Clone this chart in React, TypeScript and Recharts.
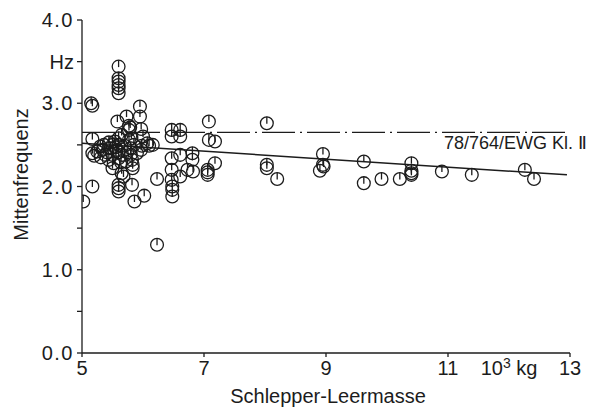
import React from 'react';
import { ScatterChart, Scatter, XAxis, YAxis, ReferenceLine, Label } from 'recharts';

const xTicks = [5, 7, 9, 11, 12, 13];
const xTickLabels: Record<number, string> = { 5: '5', 7: '7', 9: '9', 11: '11', 12: '10|3| kg', 13: '13' };
const yTicks = [0, 0.5, 1, 1.5, 2, 2.5, 3, 3.5, 4];
const yTickLabels: Record<number, string> = { 0: '0.0', 1: '1.0', 2: '2.0', 3: '3.0', 3.5: 'Hz', 4: '4.0' };

const limitValue = 2.65;
const limitLabel = '78/764/EWG Kl. Ⅱ';
const regressionLine = [
  { x: 5, y: 2.52 },
  { x: 12.95, y: 2.14 },
];

const massX = [
  5.02, 5.17, 5.15, 5.17, 5.17, 5.17, 5.2,
  5.6, 5.6, 5.6, 5.6, 5.6, 5.6, 5.58,
  5.6, 5.6, 5.6,
  5.73, 5.79, 5.95, 5.95, 5.97, 5.81, 6.07, 6.1, 5.98, 6.16,
  5.5, 5.65, 5.68, 5.82, 5.86, 6.02, 6.23, 6.23,
  5.3, 5.36, 5.44, 5.41, 5.47, 5.5, 5.54, 5.57, 5.6, 5.6, 5.6, 5.6, 5.65, 5.7, 5.74, 5.77,
  5.8, 5.8, 5.82, 5.83, 5.83, 5.31, 5.34, 5.64, 5.44, 5.52, 5.77, 5.77, 6.0, 5.97, 5.25,
  5.38, 5.55, 5.66, 5.72, 5.5, 5.85, 5.9,
  6.47, 6.61, 6.47, 6.61, 7.08, 7.08, 7.18, 6.47, 6.61, 6.81, 6.81, 6.73, 6.82, 6.61,
  6.47, 6.47, 6.48, 6.48, 6.48, 7.06, 7.06, 7.06, 7.18,
  8.03, 8.03, 8.03, 8.2, 8.95, 8.95, 8.9, 8.96, 9.62, 9.62, 9.91, 10.21, 10.4, 10.4, 10.4, 10.4,
  10.9, 11.39, 12.26, 12.41,
];
const freqY = [
  1.82, 2.0, 3.0, 2.97, 2.57, 2.4, 2.37,
  3.44, 3.3, 3.26, 3.22, 3.18, 3.12, 2.78,
  2.02, 1.98, 1.94,
  2.84, 2.71, 2.96, 2.84, 2.69, 2.58, 2.52, 2.49, 2.49, 2.5,
  2.22, 2.16, 2.12, 2.02, 1.82, 1.89, 2.09, 1.3,
  2.48, 2.5, 2.53, 2.41, 2.46, 2.38, 2.54, 2.44, 2.58, 2.5, 2.41, 2.34, 2.62, 2.49, 2.41, 2.56,
  2.46, 2.38, 2.32, 2.26, 2.22, 2.35, 2.44, 2.29, 2.32, 2.28, 2.68, 2.73, 2.6, 2.44, 2.42,
  2.38, 2.47, 2.38, 2.3, 2.5, 2.5, 2.4,
  2.68, 2.68, 2.6, 2.6, 2.78, 2.56, 2.54, 2.34, 2.38, 2.4, 2.32, 2.2, 2.18, 2.12,
  2.2, 2.08, 2.0, 1.96, 1.88, 2.2, 2.17, 2.14, 2.28,
  2.76, 2.26, 2.22, 2.09, 2.39, 2.26, 2.19, 2.24, 2.3, 2.04, 2.09, 2.09, 2.28, 2.19, 2.14, 2.16,
  2.18, 2.14, 2.2, 2.09,
];

const points = massX.map((x, i) => ({ x, y: freqY[i] }));

const INK = '#1c1c1c';
const FONT = '"Liberation Sans", Arial, sans-serif';

const Marker = (props: any) => {
  const { cx, cy } = props;
  if (cx == null || cy == null) return null;
  const r = 6.4;
  return (
    <g>
      <circle cx={cx} cy={cy} r={r} fill="none" stroke={INK} strokeWidth={1.3} />
      <line x1={cx} y1={cy - r} x2={cx} y2={cy + 0.5} stroke={INK} strokeWidth={1.3} />
    </g>
  );
};

const XTick = (props: any) => {
  const { x, y, payload } = props;
  const label = xTickLabels[payload.value] ?? '';
  const isUnit = label.includes('|');
  const parts = label.split('|');
  return (
    <g>
      {!isUnit && <line x1={x} y1={y - 6} x2={x} y2={y - 2} stroke={INK} strokeWidth={1.3} />}
      <text x={x} y={y} dy={16} textAnchor="middle" fontFamily={FONT} fontSize={20} fill={INK}>
        {isUnit ? (
          <>
            <tspan>{parts[0]}</tspan>
            <tspan dy={-7} fontSize={14}>{parts[1]}</tspan>
            <tspan dy={7}>{parts[2]}</tspan>
          </>
        ) : (
          label
        )}
      </text>
    </g>
  );
};

const YTick = (props: any) => {
  const { x, y, payload } = props;
  const label = yTickLabels[payload.value] ?? '';
  return (
    <text x={x} y={y} dy={7} textAnchor="end" fontFamily={FONT} fontSize={20} fill={INK} letterSpacing={label === 'Hz' ? 0 : 1.5}>
      {label}
    </text>
  );
};

export default function App() {
  return (
    <div style={{ position: 'absolute', left: 0, top: 0, background: '#fff' }}>
      <ScatterChart width={600} height={408} margin={{ top: 20, right: 30, bottom: 0, left: 0 }}>
        <XAxis
          type="number"
          dataKey="x"
          domain={[5, 13]}
          ticks={xTicks}
          interval={0}
          allowDataOverflow
          height={55}
          tickLine={false}
          tickSize={4}
          tickMargin={2}
          tick={<XTick />}
          axisLine={{ stroke: INK, strokeWidth: 1.3 }}
        >
          <Label
            content={(p: any) => {
              const vb = p.viewBox;
              return (
                <text x={vb.x + vb.width / 2 + 2} y={403} textAnchor="middle" fontFamily={FONT} fontSize={20} fill={INK}>
                  Schlepper-Leermasse
                </text>
              );
            }}
          />
        </XAxis>
        <YAxis
          type="number"
          dataKey="y"
          domain={[0, 4]}
          ticks={yTicks}
          interval={0}
          allowDataOverflow
          width={82}
          tickSize={5}
          tickMargin={3}
          tickLine={{ stroke: INK, strokeWidth: 1.3 }}
          tick={<YTick />}
          axisLine={{ stroke: INK, strokeWidth: 1.3 }}
        >
          <Label
            content={(p: any) => {
              const vb = p.viewBox;
              const cy = vb.y + vb.height / 2 - 12;
              return (
                <text x={28} y={cy} transform={`rotate(-90 28 ${cy})`} textAnchor="middle" fontFamily={FONT} fontSize={20} fill={INK}>
                  Mittenfrequenz
                </text>
              );
            }}
          />
        </YAxis>
        <ReferenceLine
          y={limitValue}
          stroke={INK}
          strokeWidth={1.3}
          strokeDasharray="33 5 2 5"
          label={(p: any) => {
            const vb = p.viewBox;
            return (
              <text x={vb.x + vb.width + 17} y={vb.y + 17} textAnchor="end" fontFamily={FONT} fontSize={18} fill={INK}>
                {limitLabel}
              </text>
            );
          }}
        />
        <ReferenceLine segment={regressionLine} stroke={INK} strokeWidth={1.5} ifOverflow="visible" />
        <Scatter data={points} shape={<Marker />} isAnimationActive={false} />
      </ScatterChart>
    </div>
  );
}
